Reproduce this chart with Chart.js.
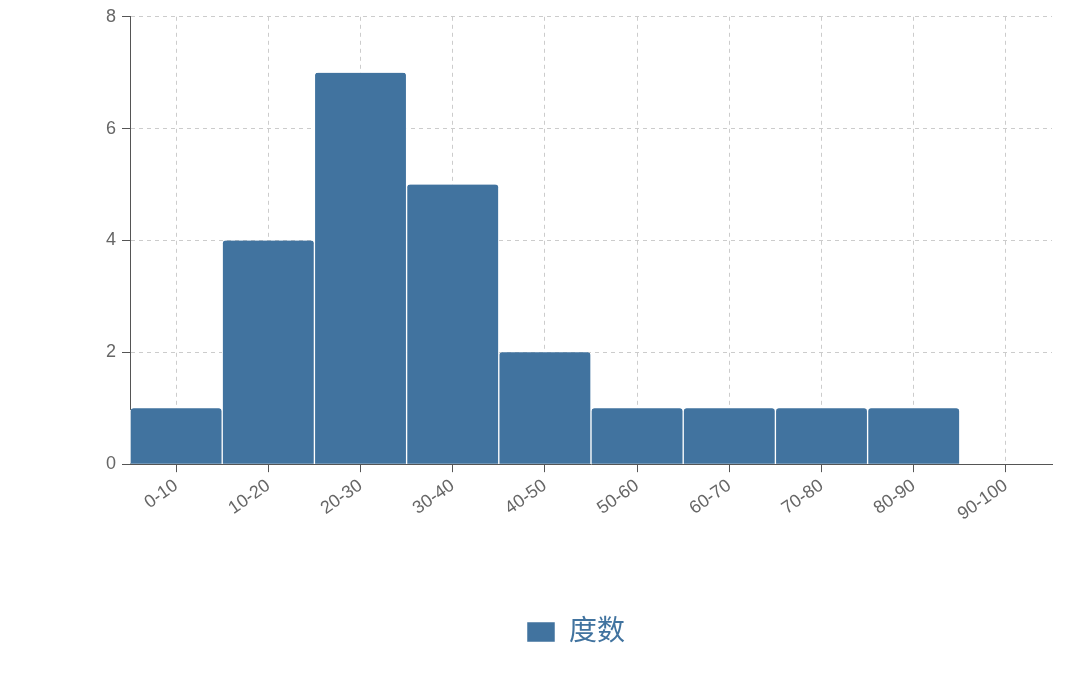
<!DOCTYPE html>
<html>
<head>
<meta charset="utf-8">
<script src="https://cdn.jsdelivr.net/npm/chart.js@4"></script>
<style>
  html, body { margin: 0; padding: 0; background: #fff; }
  #wrap { width: 1072px; height: 684px; }
</style>
</head>
<body>
<div id="wrap"><canvas id="histChart"></canvas></div>
<script>
// Histogram data
const categories = ["0-10", "10-20", "20-30", "30-40", "40-50", "50-60", "60-70", "70-80", "80-90", "90-100"];
const counts = [1, 4, 7, 5, 2, 1, 1, 1, 1, 0];
const yTicks = [0, 2, 4, 6, 8];
const seriesLabel = "度数";

const barColor = "#41739f";
const font = "'Liberation Sans', 'Noto Sans CJK SC', sans-serif";

const ctx = document.getElementById("histChart").getContext("2d");
new Chart(ctx, {
  type: "bar",
  data: {
    labels: categories,
    datasets: [
      {
        label: seriesLabel,
        data: counts,
        backgroundColor: barColor,
        borderColor: "#ffffff",
        borderWidth: { top: 0, left: 1, right: 1, bottom: 0 },
        borderRadius: { topLeft: 4, topRight: 4 },
        borderSkipped: "bottom",
        barPercentage: 1,
        categoryPercentage: 1,
      },
    ],
  },
  options: {
    responsive: true,
    maintainAspectRatio: false,
    animation: false,
    layout: { padding: { top: 12, right: 20, left: 100, bottom: 28 } },
    plugins: {
      tooltip: { enabled: false },
      legend: {
        position: "bottom",
        labels: {
          color: barColor,
          boxWidth: 28,
          boxHeight: 20,
          padding: 90,
          font: { family: font, size: 28 },
        },
      },
    },
    scales: {
      x: {
        grid: {
          offset: false,
          color: "#cccccc",
          drawTicks: true,
          tickLength: 8,
          tickColor: "#555",
        },
        border: { color: "#555", dash: [4, 4] },
        ticks: {
          color: "#666",
          maxRotation: 35,
          minRotation: 35,
          font: { family: font, size: 18 },
        },
      },
      y: {
        min: 0,
        max: 8,
        afterBuildTicks: (axis) => {
          axis.ticks = yTicks.map((v) => ({ value: v }));
        },
        grid: { color: "#cccccc", tickLength: 8, tickColor: "#555" },
        border: { color: "#555", dash: [4, 4] },
        ticks: {
          color: "#666",
          padding: 6,
          font: { family: font, size: 18 },
        },
      },
    },
  },
});
</script>
</body>
</html>
